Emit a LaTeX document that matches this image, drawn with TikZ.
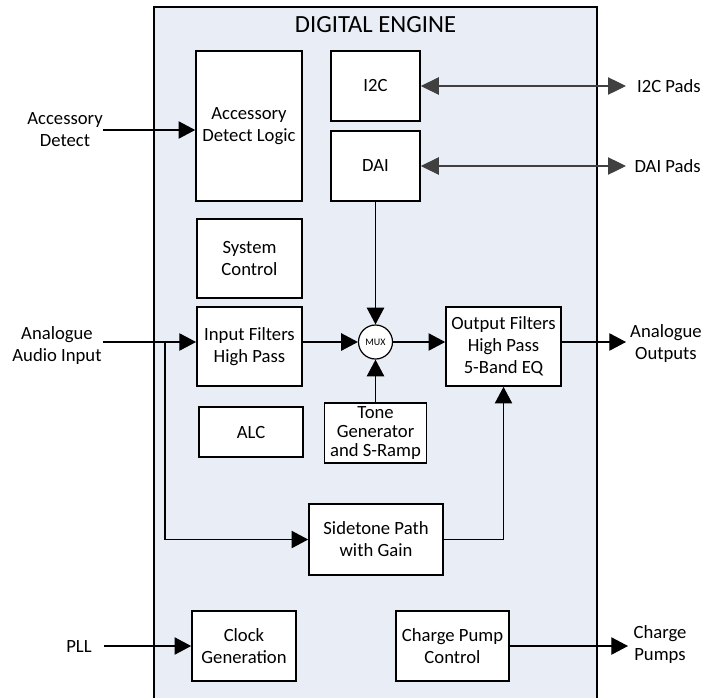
\documentclass[tikz,border=0pt]{standalone}
\usepackage{fontspec}
\setmainfont{Carlito}
\usetikzlibrary{arrows.meta}
\definecolor{enginebg}{RGB}{233,237,245}
\definecolor{busgray}{RGB}{64,64,64}

\begin{document}
\begin{tikzpicture}[x=0.75pt, y=-0.75pt,
        block/.style={draw, line width=1.2pt, fill=white, align=center, inner sep=0pt, font=\fontsize{14}{16.5}\selectfont},
        lbl/.style={align=center, inner sep=0pt, font=\fontsize{14}{16.5}\selectfont},
        arr/.style={line width=0.9pt, -{Triangle[length=12.5pt, width=13pt]}},
        busarr/.style={draw=busgray, line width=0.9pt, {Triangle[length=13.5pt, width=13pt]}-{Triangle[length=13.5pt, width=13pt]}}]

            \useasboundingbox (0,0) rectangle (705,697);
            \clip (0,0) rectangle (705,697);

            % engine outline
            \draw[line width=1.2pt, fill=enginebg] (154,7) rectangle (597,720);
            \node[inner sep=0pt, font=\fontsize{18.5}{22}\selectfont] (title) at (375.5,25) {DIGITAL ENGINE};

            % blocks
            \node[block, minimum width=79.5pt, minimum height=112.5pt] (acclogic) at (249,126) {Accessory\\Detect Logic};
            \node[block, minimum width=66.75pt, minimum height=52.5pt] (i2c) at (375.5,86) {I2C};
            \node[block, minimum width=66.75pt, minimum height=52.5pt] (dai) at (375.5,166) {DAI};
            \node[block, minimum width=79pt, minimum height=59.25pt] (sysctl) at (249.5,258.5) {System\\Control};
            \node[block, minimum width=79pt, minimum height=59.25pt] (infilt) at (249.5,346.5) {Input Filters\\High Pass};
            \node[draw, circle, fill=white, line width=0.9pt, minimum size=25.5pt, inner sep=0pt, font=\fontsize{7.5}{8}\selectfont] (mux) at (375.5,342) {MUX};
            \node[block, minimum width=86.25pt, minimum height=59.25pt] (outfilt) at (503.5,346.5) {Output Filters\\High Pass\\5-Band EQ};
            \node[block, minimum width=78pt, minimum height=37.5pt] (alc) at (251,432) {ALC};
            \node[block, minimum width=76.5pt, minimum height=45pt, font=\fontsize{14}{14.25}\selectfont] (tone) at (375.5,433) {Tone\\Generator\\and S-Ramp};
            \node[block, minimum width=100.5pt, minimum height=53.25pt] (sidetone) at (376,539.5) {Sidetone Path\\with Gain};
            \node[block, minimum width=78pt, minimum height=52.5pt] (clkgen) at (244,646) {Clock\\Generation};
            \node[block, minimum width=84.75pt, minimum height=52.5pt] (cpump) at (452.5,646) {Charge Pump\\Control};

            % pins and labels
            \coordinate (accpt) at (103,130);
            \coordinate (ainpt) at (103,342);
            \coordinate (tap) at (165,342);
            \coordinate (pllpt) at (104,646);
            \coordinate (i2cpt) at (626,86);
            \coordinate (daipt) at (626,166);
            \coordinate (aoutpt) at (626,342);
            \coordinate (cppt) at (628,646);

            \node[lbl, anchor=east] (accdet) at (accpt) {Accessory\\Detect};
            \node[lbl] (ain) at (57,346) {Analogue\\Audio Input};
            \node[lbl] (pll) at (79,646) {PLL};
            \node[lbl, anchor=east] (i2cpads) at (701,86) {I2C Pads};
            \node[lbl, anchor=east] (daipads) at (701,166) {DAI Pads};
            \node[lbl] (aout) at (666,344) {Analogue\\Outputs};
            \node[lbl] (cpumps) at (660,645) {Charge\\Pumps};

            % connections
            \draw[arr] (accpt) -- (acclogic.west |- accpt);
            \draw[arr] (ainpt) -- (infilt.west |- ainpt);
            \draw[arr] (tap) |- (sidetone.west);
            \draw[arr] (infilt.east |- mux) -- (mux.west);
            \draw[arr] (dai.south) -- (mux.north);
            \draw[arr] (tone.north) -- (mux.south);
            \draw[arr] (mux.east) -- (outfilt.west |- mux);
            \draw[arr] (outfilt.east |- mux) -- (aoutpt);
            \draw[arr] (sidetone.east) -| (outfilt.south);
            \draw[arr] (pllpt) -- (clkgen.west);
            \draw[arr] (cpump.east) -- (cppt);
            \draw[busarr] (i2c.east) -- (i2cpt);
            \draw[busarr] (dai.east) -- (daipt);

        \end{tikzpicture}
\end{document}
